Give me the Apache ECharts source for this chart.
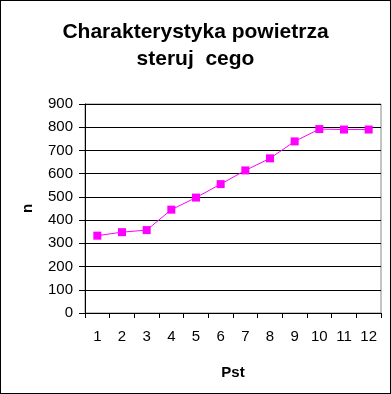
<!DOCTYPE html>
<html><head><meta charset="utf-8">
<script src="https://cdn.jsdelivr.net/npm/echarts@6/dist/echarts.min.js"></script>
<style>html,body{margin:0;padding:0;background:#fff}#c{width:391px;height:394px;box-sizing:border-box;border:1px solid #000}</style>
</head><body><div id="c"></div>
<script>
const categories = ['1','2','3','4','5','6','7','8','9','10','11','12'];
const nValues = [333, 348, 357, 445, 497, 555, 614, 666, 739, 792, 790, 790];
const titleText = 'Charakterystyka powietrza\nsteruj  cego';
const xName = 'Pst';
const yName = 'n';

const chart = echarts.init(document.getElementById('c'), null, {renderer: 'canvas'});
chart.setOption({
  animation: false,
  backgroundColor: '#fff',
  title: {
    text: titleText, left: 'center', top: 13,
    textStyle: {fontFamily: 'Liberation Sans, Arial', fontSize: 21, fontWeight: 'bold', color: '#000', lineHeight: 27}
  },
  grid: {left: 84, right: 9, top: 103, bottom: 80, show: true, borderColor: '#888', borderWidth: 1},
  xAxis: {
    type: 'category', data: categories, boundaryGap: true,
    name: xName, nameLocation: 'middle', nameGap: 52,
    nameTextStyle: {fontFamily: 'Liberation Sans, Arial', fontSize: 15, fontWeight: 'bold', color: '#000'},
    axisLine: {lineStyle: {color: '#000', width: 1}},
    axisTick: {show: true, length: 5, lineStyle: {color: '#000'}},
    axisLabel: {color: '#000', fontFamily: 'Liberation Sans, Arial', fontSize: 15, margin: 16},
    splitLine: {show: false}
  },
  yAxis: {
    type: 'value', min: 0, max: 900, interval: 100,
    name: yName, nameLocation: 'middle', nameGap: 50,
    nameTextStyle: {fontFamily: 'Liberation Sans, Arial', fontSize: 15, fontWeight: 'bold', color: '#000'},
    axisLine: {show: true, lineStyle: {color: '#000', width: 1}},
    axisTick: {show: true, length: 6, lineStyle: {color: '#000'}},
    axisLabel: {color: '#000', fontFamily: 'Liberation Sans, Arial', fontSize: 15, margin: 12},
    splitLine: {show: true, lineStyle: {color: '#000', width: 1}}
  },
  series: [{
    type: 'line', data: nValues,
    symbol: 'rect', symbolSize: 8,
    lineStyle: {color: '#ff00ff', width: 1},
    itemStyle: {color: '#ff00ff'}
  }]
});
</script></body></html>
